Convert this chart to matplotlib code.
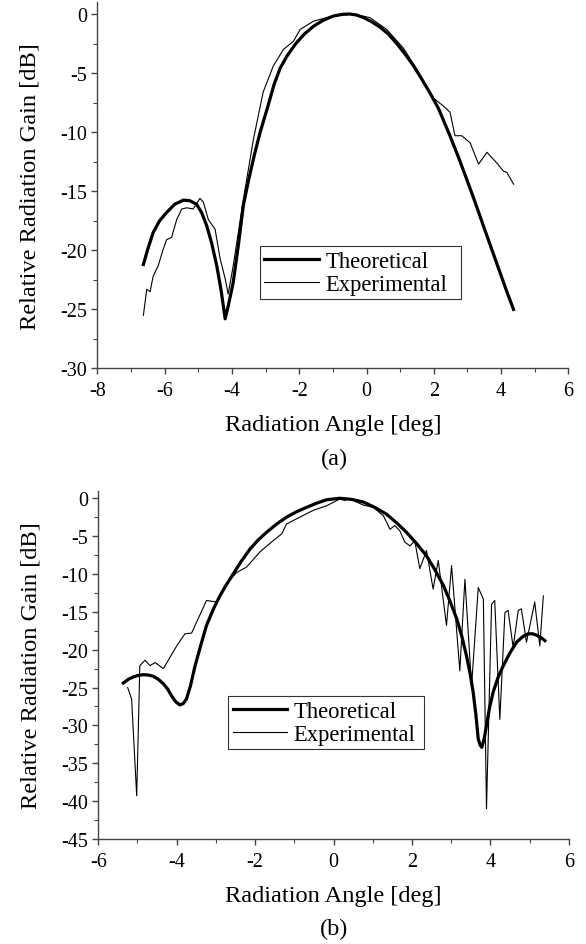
import matplotlib
matplotlib.use("Agg")
import matplotlib.pyplot as plt
from matplotlib.ticker import MultipleLocator

plt.rcParams['font.family'] = ['Liberation Serif', 'DejaVu Serif']
plt.rcParams['axes.unicode_minus'] = False

# ---------- Panel (a) data ----------
a_theo_x = [-6.63, -6.50, -6.34, -6.15, -5.94, -5.70, -5.44, -5.25, -5.05, -4.90,
            -4.75, -4.60, -4.45, -4.32, -4.20, -4.10, -3.96, -3.80, -3.66, -3.50,
            -3.33, -3.16, -2.95, -2.75, -2.57, -2.35, -2.10, -1.85, -1.58, -1.30,
            -1.00, -0.70, -0.50, -0.30, -0.09, 0.15, 0.40, 0.65, 0.90, 1.15,
            1.39, 1.64, 1.89, 2.14, 2.48, 2.73, 2.98, 3.23, 3.47,
            3.72, 3.97, 4.17, 4.37]
a_theo_y = [-21.2, -19.9, -18.5, -17.5, -16.8, -16.1, -15.75, -15.8, -16.1, -16.8,
            -17.9, -19.4, -21.3, -23.4, -25.8, -24.6, -22.7, -19.4, -16.2, -14.0,
            -11.9, -10.0, -8.0, -6.0, -4.6, -3.5, -2.5, -1.7, -1.05, -0.55,
            -0.18, -0.02, 0.0, -0.08, -0.3, -0.65, -1.1, -1.7, -2.5, -3.4,
            -4.35, -5.5, -6.7, -8.0, -10.3, -12.1, -14.0, -15.95, -17.9,
            -19.9, -21.9, -23.5, -25.0]

a_exp_x = [-6.63, -6.53, -6.43, -6.34, -6.19, -6.04, -5.94, -5.79, -5.64, -5.49,
           -5.34, -5.15, -4.95, -4.85, -4.70, -4.50, -4.35, -4.20, -4.11, -3.96,
           -3.66, -3.36, -3.07, -2.77, -2.47, -2.17, -1.97, -1.57, -1.18, -0.79,
           -0.40, 0.10, 0.60, 1.10, 1.50, 1.94, 2.29, 2.48, 2.63, 2.83,
           3.08, 3.33, 3.58, 3.87, 4.07, 4.17, 4.37]
a_exp_y = [-25.5, -23.3, -23.5, -22.2, -21.3, -19.9, -19.1, -18.9, -17.4, -16.5,
           -16.4, -16.5, -15.6, -15.9, -17.4, -18.2, -20.7, -22.4, -23.7, -21.3,
           -15.7, -10.6, -6.6, -4.4, -3.0, -2.3, -1.3, -0.6, -0.3, -0.1,
           0.0, -0.3, -1.3, -2.9, -4.7, -7.0, -7.8, -8.3, -10.3, -10.3,
           -10.9, -12.7, -11.7, -12.6, -13.3, -13.4, -14.4]

# ---------- Panel (b) data ----------
b_theo_x = [-5.36, -5.23, -5.11, -4.98, -4.85, -4.72, -4.60, -4.47, -4.34, -4.23,
            -4.13, -4.02, -3.92, -3.83, -3.75, -3.65, -3.53, -3.38, -3.24, -3.07,
            -2.90, -2.73, -2.56, -2.35, -2.13, -1.92, -1.71, -1.45, -1.20, -0.95,
            -0.69, -0.43, -0.18, 0.16, 0.46, 0.76, 1.05, 1.35, 1.60, 1.86,
            2.12, 2.37, 2.58, 2.80, 2.97, 3.14, 3.27, 3.39, 3.48, 3.56,
            3.63, 3.69, 3.74, 3.78, 3.84, 3.90, 3.98, 4.07, 4.20, 4.33,
            4.50, 4.67, 4.82, 4.96, 5.08, 5.18, 5.29, 5.39]
b_theo_y = [-24.4, -23.9, -23.6, -23.4, -23.3, -23.35, -23.5, -23.9, -24.5, -25.2,
            -26.1, -26.9, -27.3, -27.1, -26.5, -24.8, -22.1, -19.3, -16.8, -14.7,
            -12.9, -11.4, -10.0, -8.3, -6.7, -5.5, -4.5, -3.4, -2.5, -1.8,
            -1.2, -0.65, -0.2, 0.0, -0.15, -0.5, -1.2, -2.1, -3.2, -4.5,
            -6.0, -7.6, -9.4, -11.5, -13.6, -15.9, -18.2, -20.8, -23.1, -25.6,
            -28.6, -31.8, -32.6, -32.9, -31.8, -30.0, -27.6, -25.6, -23.6, -22.1,
            -20.4, -19.0, -18.3, -17.9, -17.9, -18.1, -18.4, -18.8]

b_exp_x = [-5.25, -5.15, -5.02, -4.94, -4.81, -4.68, -4.55, -4.34, -4.00, -3.79,
           -3.62, -3.24, -2.98, -2.77, -2.47, -2.22, -1.88, -1.54, -1.32, -1.20,
           -0.86, -0.52, -0.18, 0.16, 0.29, 0.37, 0.76, 1.01, 1.27, 1.44,
           1.56, 1.69, 1.82, 1.95, 2.07, 2.20, 2.37, 2.54, 2.67, 2.88,
           3.01, 3.22, 3.35, 3.52, 3.69, 3.82, 3.90, 4.03, 4.11, 4.24,
           4.37, 4.45, 4.58, 4.71, 4.79, 4.92, 5.13, 5.26, 5.35]
b_exp_y = [-25.0, -26.5, -39.3, -22.1, -21.4, -22.1, -21.7, -22.5, -19.5, -17.9,
           -17.8, -13.5, -13.7, -11.5, -9.8, -9.1, -7.1, -5.6, -4.7, -3.4,
           -2.5, -1.6, -1.0, -0.1, -0.3, 0.0, -0.9, -1.2, -2.3, -4.1,
           -3.6, -4.3, -5.8, -6.3, -5.6, -9.3, -6.9, -12.0, -8.2, -16.8,
           -8.9, -22.8, -10.7, -24.8, -11.8, -13.3, -41.0, -14.0, -13.5, -29.2,
           -15.1, -14.8, -19.7, -14.8, -14.6, -19.0, -13.7, -19.5, -12.9]

series_labels = ["Theoretical", "Experimental"]
x_label = "Radiation Angle [deg]"
y_label = "Relative Radiation Gain [dB]"
panel_tags = ["(a)", "(b)"]

fig = plt.figure(figsize=(5.86, 9.45), dpi=100)
ax1 = fig.add_axes([0.166, 0.609, 0.804, 0.3876])
ax2 = fig.add_axes([0.1677, 0.1111, 0.803, 0.3686])

TFS = 14.5
LFS = 17.6
GFS = 16.3
spine_col = '#444444'

def style(ax, xlim, ylim, yticks, xlab_y):
    ax.set_xlim(*xlim)
    ax.set_ylim(*ylim)
    ax.set_yticks(yticks)
    ax.xaxis.set_major_locator(MultipleLocator(2))
    ax.xaxis.set_minor_locator(MultipleLocator(1))
    ax.yaxis.set_minor_locator(MultipleLocator(2.5))
    for s in ['top', 'right']:
        ax.spines[s].set_visible(False)
    for s in ['left', 'bottom']:
        ax.spines[s].set_color(spine_col)
        ax.spines[s].set_linewidth(1.0)
    ax.tick_params(which='major', direction='out', length=4.5, width=1.0,
                   color=spine_col, labelsize=TFS, pad=3)
    ax.tick_params(axis='x', which='major', pad=4.5)
    ax.tick_params(which='minor', direction='out', length=3, width=0.8,
                   color=spine_col)
    ax.set_ylabel(y_label, fontsize=LFS)
    ax.set_xlabel(x_label, fontsize=LFS)
    ax.yaxis.set_label_coords(-0.121, 0.5)
    ax.xaxis.set_label_coords(0.5, xlab_y)

def legend(ax, bbox):
    leg = ax.legend(loc='lower left', bbox_to_anchor=bbox,
                    mode='expand', fontsize=GFS, frameon=True, fancybox=False,
                    borderaxespad=0, handlelength=2.4, borderpad=0.2,
                    labelspacing=0.08, handletextpad=0.3)
    leg.get_frame().set_edgecolor('black')
    leg.get_frame().set_linewidth(0.8)
    return leg

ax1.plot(a_theo_x, a_theo_y, color='black', lw=2.3, label=series_labels[0])
ax1.plot(a_exp_x, a_exp_y, color='black', lw=0.8, label=series_labels[1])
style(ax1, (-8, 6), (-30, 1), [0, -5, -10, -15, -20, -25, -30], -0.125)
legend(ax1, (0.345, 0.189, 0.427, 0.159))

ax2.plot(b_theo_x, b_theo_y, color='black', lw=2.3, label=series_labels[0])
ax2.plot(b_exp_x, b_exp_y, color='black', lw=0.8, label=series_labels[1])
style(ax2, (-6, 6), (-45, 1), [0, -5, -10, -15, -20, -25, -30, -35, -40, -45], -0.132)
legend(ax2, (0.276, 0.258, 0.416, 0.16))

fig.text(334 / 586, 1 - 459 / 945, panel_tags[0], ha='center', va='center', fontsize=LFS)
fig.text(334 / 586, 1 - 929 / 945, panel_tags[1], ha='center', va='center', fontsize=LFS)

fig.savefig("out.png", dpi=100)
